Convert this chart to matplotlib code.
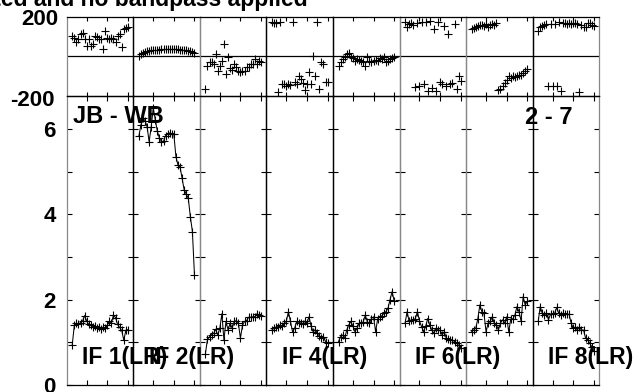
import matplotlib
matplotlib.use('Agg')
import matplotlib.pyplot as plt

plt.rcParams['font.family'] = ['Liberation Sans', 'DejaVu Sans']
plt.rcParams['font.weight'] = 'bold'

# ---------------- data ----------------
channels = list(range(3, 31))
if_labels = ['IF 1(LR)', 'IF 2(LR)', '', 'IF 4(LR)', '', 'IF 6(LR)', '', 'IF 8(LR)']
baseline_label = 'JB - WB'
scan_label = '2 - 7'
title_text = 'Calibrated and no bandpass applied'

amp_if1 = [0.95, 1.40, 1.45, 1.43, 1.46, 1.50, 1.63, 1.50, 1.42, 1.40, 1.36, 1.38, 1.33, 1.36,
           1.32, 1.35, 1.33, 1.40, 1.50, 1.45, 1.64, 1.58, 1.42, 1.35, 1.28, 1.05, 1.28, 1.30]
amp_if2 = [5.83, 6.10, 6.26, 6.20, 6.06, 5.71, 6.05, 6.50, 6.22, 5.95, 5.79, 5.71, 5.72, 5.85,
           5.90, 5.91, 5.90, 5.88, 5.36, 5.16, 5.12, 4.85, 4.58, 4.48, 4.38, 3.95, 3.60, 2.58]
amp_if3 = [0.73, 1.07, 1.13, 1.18, 1.21, 1.31, 1.17, 1.33, 1.67, 1.06, 1.49, 1.29, 1.45, 1.33,
           1.49, 1.51, 1.45, 1.10, 1.40, 1.49, 1.51, 1.59, 1.59, 1.60, 1.60, 1.67, 1.65, 1.62]
amp_if4 = [1.29, 1.33, 1.36, 1.37, 1.41, 1.38, 1.45, 1.50, 1.72, 1.49, 1.25, 1.33, 1.49, 1.45,
           1.46, 1.44, 1.50, 1.46, 1.60, 1.38, 1.25, 1.30, 1.21, 1.15, 1.10, 1.13, 1.02, 0.98]
amp_if5 = [1.02, 1.13, 1.17, 1.10, 1.29, 1.41, 1.49, 1.38, 1.25, 1.33, 1.45, 1.45, 1.48, 1.64,
           1.48, 1.45, 1.56, 1.60, 1.25, 1.55, 1.60, 1.62, 1.68, 1.72, 1.80, 2.00, 2.19, 1.98]
amp_if6 = [1.45, 1.72, 1.49, 1.53, 1.52, 1.56, 1.72, 1.50, 1.37, 1.25, 1.38, 1.56, 1.41, 1.29,
           1.21, 1.33, 1.30, 1.28, 1.17, 1.25, 1.10, 1.08, 1.06, 1.05, 1.02, 0.98, 0.93, 0.87]
amp_if7 = [1.25, 1.29, 1.33, 1.55, 1.88, 1.72, 1.68, 1.25, 1.45, 1.49, 1.60, 1.45, 1.41, 1.29,
           1.45, 1.53, 1.45, 1.60, 1.25, 1.55, 1.55, 1.64, 1.84, 1.72, 1.50, 2.07, 1.88, 1.96]
amp_if8 = [1.49, 1.84, 1.68, 1.64, 1.68, 1.53, 1.66, 1.66, 1.68, 1.82, 1.68, 1.65, 1.68, 1.66,
           1.66, 1.66, 1.45, 1.33, 1.36, 1.29, 1.36, 1.29, 1.29, 1.10, 1.06, 0.98, 0.90, 0.80]

phase_if1 = [104, 95, 70, 87, 112, 120, 87, 54, 87, 54, 62, 104, 97, 87, 90, 36, 129, 95, 87, 95,
             87, 70, 104, 112, 45, 137, 145, 150]
phase_if2 = [3, 12, 18, 23, 26, 28, 30, 31, 32, 33, 34, 36, 37, 38, 39, 39, 38, 37, 36, 35, 34,
             33, 32, 30, 28, 26, 22, 18]
phase_if3 = [-165, -47, -30, -30, -40, 12, -72, -47, -25, 62, -87, -2, -60, -70, -39, -55, -72,
             -81, -76, -72, -55, -52, -39, -39, -14, -39, -22, -30]
phase_if4 = [172, 168, 168, -178, 171, -140, -138, -148, -140, -145, 172, -131, -140, -98, -115,
             -135, -172, -140, -79, -140, 3, -98, 171, -165, -30, -39, -131, -128]
phase_if5 = [-47, -30, -14, -5, 12, 15, -5, -10, -22, -14, -18, -22, -30, -47, -5, -22, -30, -22,
             -20, -22, -10, -15, -5, -30, -22, -14, -10, -5]
phase_if6 = [171, 150, 162, 166, 160, -156, 166, -148, 171, -140, 175, -173, 176, -160, 137, -173,
             171, -131, -140, 154, -148, 113, -140, -135, 162, -165, -98, -123]
phase_if7 = [140, 145, 150, 152, 158, 160, 155, 162, 150, 158, 165, 160, 168, -168, -165, -150,
             -135, -120, -100, -110, -100, -105, -98, -92, -95, -85, -72, -64]
phase_if8 = [129, 147, 154, 158, 162, -148, 162, -148, 165, -150, 171, -173, 166, 166, 165, 166,
             165, 168, 170, 165, -178, 160, 150, 147, 166, 168, 160, 155]

amps = [amp_if1, amp_if2, amp_if3, amp_if4, amp_if5, amp_if6, amp_if7, amp_if8]
phases = [phase_if1, phase_if2, phase_if3, phase_if4, phase_if5, phase_if6, phase_if7, phase_if8]

amp_ticks = [0, 1, 2, 3, 4, 5, 6]
amp_ticklabels = ['0', '', '2', '', '4', '', '6']
chan_ticks = [10, 20, 30]

# ---------------- layout ----------------
W, H = 636, 392
fig = plt.figure(figsize=(W / 100, H / 100), dpi=100)

x0, pw = 66.7, 66.56
y_top, y_mid, y_bot = 16.7, 96.0, 385.0
gray = '#888888'
bcol = [gray, 'black', gray, 'black', 'black', gray, gray, 'black', gray]
FS = 16
ms, mew, lw = 5.2, 0.8, 0.75

for i in range(8):
    left = (x0 + i * pw) / W
    axp = fig.add_axes([left, (H - y_mid) / H, pw / W, (y_mid - y_top) / H])
    axa = fig.add_axes([left, (H - y_bot) / H, pw / W, (y_bot - y_mid) / H])

    # phase
    axp.plot(channels, phases[i], linestyle='none', marker='+', color='black',
             markersize=ms, markeredgewidth=mew, clip_on=True)
    axp.axhline(0, color='black', lw=0.9)
    axp.set_xlim(0.3, 32.6)
    axp.set_ylim(-200, 200)
    axp.set_xticks(chan_ticks)
    axp.set_xticklabels([])
    axp.set_yticks([])
    axp.tick_params(axis='x', direction='in', length=3.2, width=0.8, top=True, bottom=True)

    # amplitude
    axa.plot(channels, amps[i], linestyle='-', linewidth=lw, marker='+', color='black',
             markersize=ms, markeredgewidth=mew)
    axa.set_xlim(0.3, 32.6)
    axa.set_ylim(0, 6.78)
    axa.set_xticks(chan_ticks)
    axa.set_xticklabels([])
    axa.set_yticks(amp_ticks)
    axa.tick_params(axis='x', direction='in', length=3.6, width=0.8, top=True, bottom=True)
    axa.tick_params(axis='y', direction='in', length=3.6, width=0.8, left=True, right=True)
    if i == 0:
        axa.set_yticklabels(amp_ticklabels, fontsize=FS, fontweight='bold')
        axa.tick_params(axis='y', pad=8)
        axp.annotate('200', xy=(0, 200), xycoords=('axes fraction', 'data'),
                     xytext=(-8, -3), textcoords='offset pixels', ha='right', va='center',
                     fontsize=FS, fontweight='bold', annotation_clip=False)
        axp.annotate('-200', xy=(0, -200), xycoords=('axes fraction', 'data'),
                     xytext=(-12, -4), textcoords='offset pixels', ha='right', va='center',
                     fontsize=FS, fontweight='bold', annotation_clip=False)
    else:
        axa.set_yticklabels([])

    for ax in (axp, axa):
        ax.spines['left'].set_color(bcol[i])
        ax.spines['right'].set_color(bcol[i + 1])
        ax.spines['top'].set_color('black')
        ax.spines['bottom'].set_color('black')
        for s in ax.spines.values():
            s.set_linewidth(0.9)
        ax.set_facecolor('none')

    if if_labels[i]:
        fig.text((x0 + i * pw + 15.3) / W, (H - 364) / H, if_labels[i], ha='left',
                 va='baseline', fontsize=FS + 0.5, fontweight='bold')

fig.text(72.7 / W, (H - 123.3) / H, baseline_label, ha='left', va='baseline',
         fontsize=FS + 1, fontweight='bold')
fig.text(525.3 / W, (H - 124.3) / H, scan_label, ha='left', va='baseline',
         fontsize=FS + 1, fontweight='bold')
fig.text(308 / W, (H - 6) / H, title_text, ha='right', va='baseline',
         fontsize=FS + 0.5, fontweight='bold')

fig.savefig('out.png', dpi=100)
